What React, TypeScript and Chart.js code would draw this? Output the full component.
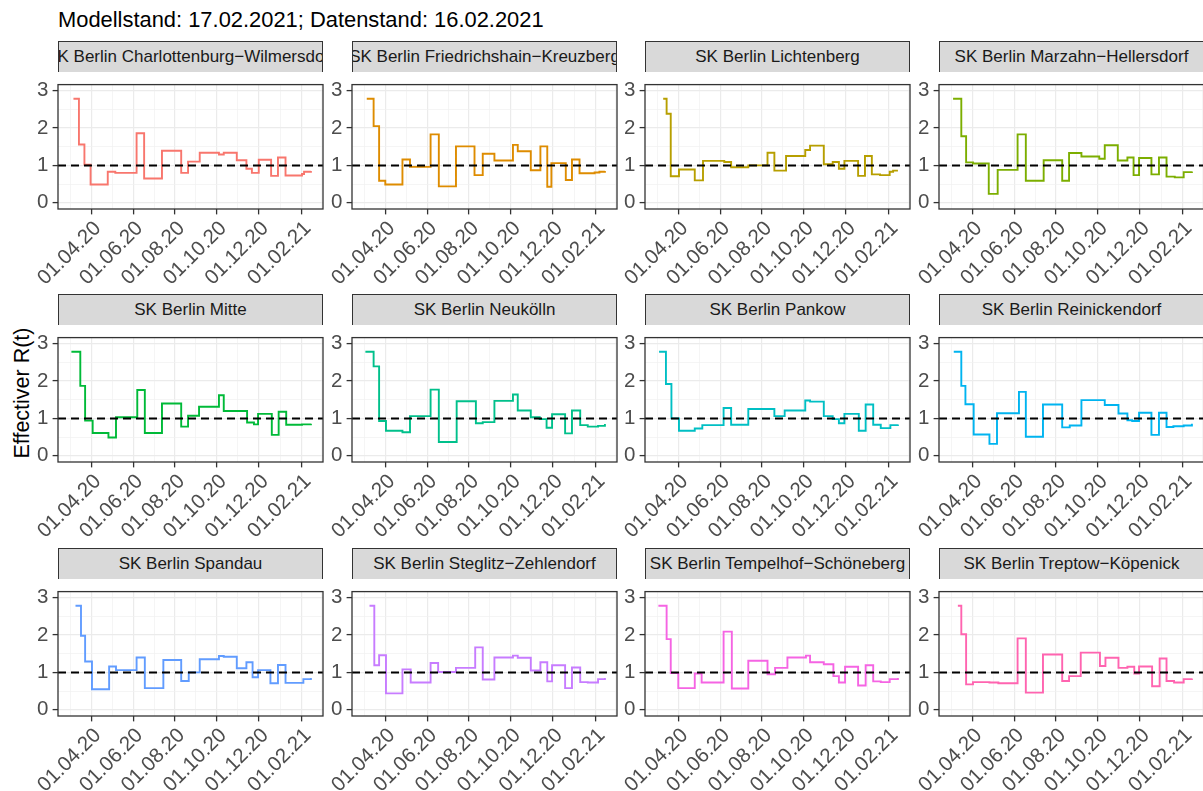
import React, { useEffect, useRef } from 'react';
import { Chart, registerables } from 'chart.js';

Chart.register(...registerables);

// ---------------- data ----------------
const TITLE = 'Modellstand: 17.02.2021; Datenstand: 16.02.2021';
const Y_TITLE = 'Effectiver R(t)';

// x values are days since 2020-01-01
const xTickDates = ['2020-04-01', '2020-06-01', '2020-08-01', '2020-10-01', '2020-12-01', '2021-02-01'];
const xTickLabels = ['01.04.20', '01.06.20', '01.08.20', '01.10.20', '01.12.20', '01.02.21'];
const xOuterBreakDates = ['2020-02-01', '2021-04-01'];
const yTickValues = [0, 1, 2, 3];
const REF_R = 1;

const districtNames = [
  'SK Berlin Charlottenburg−Wilmersdorf',
  'SK Berlin Friedrichshain−Kreuzberg',
  'SK Berlin Lichtenberg',
  'SK Berlin Marzahn−Hellersdorf',
  'SK Berlin Mitte',
  'SK Berlin Neukölln',
  'SK Berlin Pankow',
  'SK Berlin Reinickendorf',
  'SK Berlin Spandau',
  'SK Berlin Steglitz−Zehlendorf',
  'SK Berlin Tempelhof−Schöneberg',
  'SK Berlin Treptow−Köpenick',
];
const districtColors = [
  '#F8766D', '#DE8C00', '#B79F00', '#7CAE00', '#00BA38', '#00C08B',
  '#00BFC4', '#00B4F0', '#619CFF', '#C77CFF', '#F564E3', '#FF64B0',
];

const charlottenburgDays = [65, 73, 81, 90, 115, 126, 157, 168, 194, 222, 232, 249, 277, 284, 303, 317, 325, 335, 353, 363, 374, 398, 401, 411];
const charlottenburgR = [2.78, 1.56, 1.02, 0.49, 0.83, 0.80, 1.86, 0.65, 1.39, 0.80, 1.10, 1.34, 1.29, 1.34, 1.14, 0.91, 0.80, 1.15, 0.72, 1.21, 0.73, 0.77, 0.83, 0.85];

const friedrichshainDays = [64, 74, 82, 91, 116, 127, 157, 169, 194, 221, 233, 250, 277, 284, 303, 317, 327, 333, 354, 363, 374, 396, 403, 411];
const friedrichshainR = [2.78, 2.05, 0.59, 0.49, 1.16, 0.96, 1.83, 0.44, 1.51, 0.74, 1.31, 1.13, 1.55, 1.38, 0.87, 1.51, 0.43, 1.06, 0.61, 1.16, 0.79, 0.81, 0.83, 0.85];

const lichtenbergDays = [69, 74, 80, 92, 115, 127, 158, 168, 193, 221, 231, 248, 276, 283, 303, 316, 325, 333, 353, 363, 373, 385, 399, 404, 411];
const lichtenbergR = [2.78, 2.38, 0.71, 0.89, 0.60, 1.12, 1.09, 0.95, 1.00, 1.34, 0.86, 1.25, 1.41, 1.53, 1.03, 1.09, 0.91, 1.12, 0.72, 1.25, 0.76, 0.74, 0.83, 0.86, 0.86];

const marzahnDays = [63, 75, 82, 92, 115, 128, 157, 169, 195, 222, 232, 250, 276, 284, 303, 317, 326, 334, 352, 363, 374, 386, 399, 411];
const marzahnR = [2.78, 1.78, 1.08, 1.05, 0.24, 0.88, 1.83, 0.59, 1.14, 0.59, 1.33, 1.24, 1.18, 1.54, 1.13, 1.21, 0.74, 1.20, 0.76, 1.21, 0.70, 0.68, 0.82, 0.84];

const mitteDays = [62, 75, 82, 93, 116, 127, 158, 169, 194, 222, 232, 248, 277, 284, 318, 328, 334, 354, 364, 375, 398, 411];
const mitteR = [2.78, 1.87, 0.94, 0.61, 0.49, 1.03, 1.76, 0.61, 1.40, 0.78, 1.07, 1.31, 1.62, 1.20, 0.89, 0.84, 1.12, 0.56, 1.18, 0.83, 0.84, 0.86];

const neukoellnDays = [62, 74, 82, 92, 116, 127, 157, 169, 195, 223, 233, 250, 277, 284, 303, 316, 326, 334, 353, 363, 375, 386, 401, 411];
const neukoellnR = [2.78, 2.39, 0.93, 0.67, 0.63, 1.06, 1.77, 0.37, 1.46, 0.87, 0.90, 1.47, 1.64, 1.21, 1.03, 0.98, 0.75, 1.11, 0.60, 1.21, 0.82, 0.78, 0.80, 0.85];

const pankowDays = [63, 73, 81, 92, 115, 126, 157, 168, 193, 231, 246, 276, 283, 303, 316, 325, 333, 354, 364, 375, 386, 400, 411];
const pankowR = [2.78, 1.92, 1.00, 0.67, 0.73, 0.82, 1.28, 0.83, 1.25, 1.06, 1.21, 1.48, 1.45, 1.06, 0.98, 0.87, 1.12, 0.67, 1.37, 0.83, 0.74, 0.82, 0.84];

const reinickendorfDays = [64, 75, 81, 93, 116, 127, 159, 169, 194, 222, 233, 250, 284, 304, 317, 324, 334, 352, 363, 374, 384, 399, 411];
const reinickendorfR = [2.78, 1.87, 1.38, 0.57, 0.32, 1.14, 1.71, 0.51, 1.37, 0.76, 0.81, 1.49, 1.36, 1.13, 0.95, 0.93, 1.15, 0.56, 1.15, 0.77, 0.79, 0.81, 0.86];

const spandauDays = [68, 76, 82, 92, 117, 127, 157, 169, 196, 222, 233, 249, 277, 284, 303, 317, 326, 334, 352, 363, 374, 400, 411];
const spandauR = [2.78, 1.98, 1.29, 0.55, 1.16, 1.06, 1.40, 0.58, 1.33, 0.77, 1.00, 1.35, 1.44, 1.42, 1.11, 1.27, 0.87, 1.06, 0.71, 1.20, 0.72, 0.82, 0.85];

const steglitzDays = [68, 75, 82, 92, 116, 128, 157, 168, 194, 222, 233, 250, 277, 284, 303, 317, 327, 334, 353, 363, 375, 386, 401, 411];
const steglitzR = [2.78, 1.19, 1.46, 0.44, 1.08, 0.73, 1.25, 1.01, 1.12, 1.67, 0.81, 1.40, 1.45, 1.39, 1.05, 1.27, 0.76, 1.19, 0.58, 1.13, 0.74, 0.73, 0.82, 0.85];

const tempelhofDays = [62, 74, 80, 91, 115, 125, 157, 169, 193, 221, 232, 250, 277, 283, 303, 317, 325, 334, 353, 364, 375, 386, 399, 411];
const tempelhofR = [2.78, 1.89, 0.98, 0.58, 0.97, 0.73, 2.09, 0.57, 1.31, 0.95, 1.12, 1.40, 1.45, 1.27, 1.22, 0.90, 0.73, 1.15, 0.65, 1.19, 0.76, 0.74, 0.82, 0.85];

const treptowDays = [70, 75, 82, 92, 116, 129, 157, 169, 194, 222, 232, 249, 277, 285, 304, 317, 327, 334, 353, 364, 374, 385, 399, 411];
const treptowR = [2.78, 2.02, 0.68, 0.74, 0.73, 0.71, 1.91, 0.46, 1.48, 0.77, 0.90, 1.53, 1.17, 1.39, 1.12, 1.15, 0.97, 1.16, 0.63, 1.37, 0.77, 0.73, 0.82, 0.84];

const seriesDays = [
  charlottenburgDays, friedrichshainDays, lichtenbergDays, marzahnDays,
  mitteDays, neukoellnDays, pankowDays, reinickendorfDays,
  spandauDays, steglitzDays, tempelhofDays, treptowDays,
];
const seriesR = [
  charlottenburgR, friedrichshainR, lichtenbergR, marzahnR,
  mitteR, neukoellnR, pankowR, reinickendorfR,
  spandauR, steglitzR, tempelhofR, treptowR,
];

// ---------------- axis limits & layout ----------------
const X_MIN_DAY = 42.5;
const X_MAX_DAY = 428.6;
const Y_MIN = -0.165;
const Y_MAX = 3.16;

const FONT = '"Liberation Sans", Arial, Helvetica, sans-serif';
const TICK_FONT_SIZE = 20.5;
const COL_LEFT = [58, 352, 645, 939];
const ROW_TOP = [72, 325, 579];
const PLOT_W = 265;
const PLOT_H = 137;
const STRIP_H = 31;
const LY = 60;
const LX = 85;
const PAD = 4;

const ORIGIN = Date.UTC(2020, 0, 1);
const toDay = (iso: string) => (Date.parse(iso) - ORIGIN) / 86400000;

const xMajorDays = xTickDates.map(toDay);
const xBreakDays = [toDay(xOuterBreakDates[0]), ...xMajorDays, toDay(xOuterBreakDates[1])];
const xMinorDays = xBreakDays
  .slice(1)
  .map((d, i) => (d + xBreakDays[i]) / 2)
  .filter((d) => d > X_MIN_DAY && d < X_MAX_DAY);
const xGridDays = [...xMajorDays, ...xMinorDays].sort((a, b) => a - b);
const yMinorValues = yTickValues.slice(1).map((v, i) => (v + yTickValues[i]) / 2);
const yGridValues = [...yTickValues, ...yMinorValues].sort((a, b) => a - b);

const isIn = (arr: number[], v: number) => arr.some((m) => Math.abs(m - v) < 1e-6);

const panelPlugin = {
  id: 'panelDecor',
  afterDraw(chart: any) {
    const { ctx, chartArea: a, scales } = chart;
    ctx.save();
    ctx.strokeStyle = '#333333';
    ctx.lineWidth = 1.3;
    ctx.strokeRect(a.left, a.top, a.right - a.left, a.bottom - a.top);
    ctx.fillStyle = '#4D4D4D';
    ctx.font = `${TICK_FONT_SIZE}px ${FONT}`;
    ctx.textAlign = 'right';
    ctx.textBaseline = 'alphabetic';
    xMajorDays.forEach((day, i) => {
      const px = scales.x.getPixelForValue(day);
      ctx.save();
      ctx.translate(px, a.bottom + 9.7);
      ctx.rotate(-Math.PI / 4);
      ctx.fillText(xTickLabels[i], 0, TICK_FONT_SIZE * 0.72);
      ctx.restore();
    });
    ctx.restore();
  },
};

function Panel({ index }: { index: number }) {
  const ref = useRef<HTMLCanvasElement>(null);
  const col = index % 4;
  const row = Math.floor(index / 4);
  const plotLeft = COL_LEFT[col];
  const plotTop = ROW_TOP[row];
  const W = LY + PLOT_W + PAD;
  const H = PAD + PLOT_H + LX;

  useEffect(() => {
    const days = seriesDays[index];
    const rs = seriesR[index];
    const gridColor = (arr: number[]) => (c: any) =>
      c.tick && isIn(arr, c.tick.value) ? '#EBEBEB' : '#F1F1F1';
    const gridWidth = (arr: number[]) => (c: any) =>
      c.tick && isIn(arr, c.tick.value) ? 1.2 : 0.7;
    const tickColor = (arr: number[]) => (c: any) =>
      c.tick && isIn(arr, c.tick.value) ? '#333333' : 'rgba(0,0,0,0)';

    const chart = new Chart(ref.current as HTMLCanvasElement, {
      type: 'line',
      data: {
        datasets: [
          {
            data: [
              { x: X_MIN_DAY, y: REF_R },
              { x: X_MAX_DAY, y: REF_R },
            ],
            borderColor: '#000000',
            borderWidth: 2,
            borderDash: [8, 5],
            pointRadius: 0,
            order: 0,
          },
          {
            data: days.map((d, i) => ({ x: d, y: rs[i] })),
            borderColor: districtColors[index],
            borderWidth: 1.9,
            pointRadius: 0,
            stepped: 'before',
            fill: false,
            order: 1,
          },
        ],
      },
      options: {
        responsive: false,
        animation: false,
        events: [],
        layout: { autoPadding: false, padding: { top: PAD, right: PAD, left: 0, bottom: 0 } },
        plugins: { legend: { display: false }, tooltip: { enabled: false } },
        scales: {
          x: {
            type: 'linear',
            min: X_MIN_DAY,
            max: X_MAX_DAY,
            afterBuildTicks: (s: any) => {
              s.ticks = xGridDays.map((v) => ({ value: v }));
            },
            afterFit: (s: any) => {
              s.height = LX;
            },
            ticks: { display: false, autoSkip: false },
            grid: {
              color: gridColor(xMajorDays),
              lineWidth: gridWidth(xMajorDays),
              tickColor: tickColor(xMajorDays),
              tickLength: 5.4,
              tickWidth: 1.3,
              drawTicks: true,
            },
            border: { display: false },
          },
          y: {
            type: 'linear',
            min: Y_MIN,
            max: Y_MAX,
            afterBuildTicks: (s: any) => {
              s.ticks = yGridValues.map((v) => ({ value: v }));
            },
            afterFit: (s: any) => {
              s.width = LY;
            },
            ticks: {
              autoSkip: false,
              padding: 4.3,
              color: '#4D4D4D',
              font: { family: FONT, size: TICK_FONT_SIZE },
              callback: (v: any) => (isIn(yTickValues, Number(v)) ? String(v) : ''),
            },
            grid: {
              color: gridColor(yTickValues),
              lineWidth: gridWidth(yTickValues),
              tickColor: tickColor(yTickValues),
              tickLength: 5.4,
              tickWidth: 1.3,
              drawTicks: true,
            },
            border: { display: false },
          },
        },
      } as any,
      plugins: [panelPlugin],
    });
    return () => chart.destroy();
  }, [index]);

  return (
    <>
      <div
        style={{
          position: 'absolute',
          left: plotLeft,
          top: plotTop - STRIP_H,
          width: PLOT_W,
          height: STRIP_H,
          boxSizing: 'border-box',
          background: '#D9D9D9',
          borderTop: '1.3px solid #333333',
          borderLeft: '1.3px solid #333333',
          borderRight: '1.3px solid #333333',
          display: 'flex',
          justifyContent: 'center',
          alignItems: 'center',
          overflow: 'hidden',
          whiteSpace: 'nowrap',
          fontSize: 17,
          color: '#1A1A1A',
        }}
      >
        <span style={{ flex: 'none' }}>{districtNames[index]}</span>
      </div>
      <canvas
        ref={ref}
        width={W}
        height={H}
        style={{
          position: 'absolute',
          left: plotLeft - LY,
          top: plotTop - PAD,
          width: W,
          height: H,
        }}
      />
    </>
  );
}

export default function App() {
  return (
    <div
      style={{
        position: 'absolute',
        left: 0,
        top: 0,
        width: 1203,
        height: 791,
        overflow: 'hidden',
        background: '#FFFFFF',
        fontFamily: FONT,
      }}
    >
      <div
        style={{
          position: 'absolute',
          left: 58,
          top: 8.5,
          fontSize: 21.9,
          lineHeight: '21.9px',
          whiteSpace: 'nowrap',
          color: '#000000',
        }}
      >
        {TITLE}
      </div>
      <div
        style={{
          position: 'absolute',
          left: 22.5,
          top: 392.5,
          transform: 'translate(-50%, -50%) rotate(-90deg)',
          fontSize: 21.5,
          lineHeight: '21.5px',
          whiteSpace: 'nowrap',
          color: '#000000',
        }}
      >
        {Y_TITLE}
      </div>
      {districtNames.map((n, i) => (
        <Panel key={n} index={i} />
      ))}
    </div>
  );
}
